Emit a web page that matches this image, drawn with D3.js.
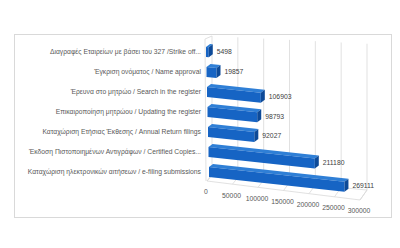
<!DOCTYPE html>
<html><head><meta charset="utf-8">
<script src="https://cdn.jsdelivr.net/npm/d3@7"></script>
<style>html,body{margin:0;padding:0;background:#fff;}svg{display:block;}</style>
</head><body>
<svg id="c" width="400" height="248"></svg>
<script>
const categories = [
  "Διαγραφές Εταιρείων  με βάσει του 327 /Strike off...",
  "Έγκριση ονόματος / Name approval",
  "Έρευνα στο μητρώο / Search in the register",
  "Επικαιροποίηση μητρώου / Updating the register",
  "Καταχώριση Ετήσιας Έκθεσης / Annual Return filings",
  "Έκδοση Πιστοποιημένων Αντιγράφων / Certified Copies...",
  "Καταχώριση ηλεκτρονικών αιτήσεων / e-filing submissions"
];
const values = [5498, 19857, 106903, 98793, 92027, 211180, 269111];
const ticks = [0, 50000, 100000, 150000, 200000, 250000, 300000];

const svg = d3.select("#c");
const font = "'Liberation Sans', Arial, sans-serif";
const grid = "#d9d9d9";

// chart area frame
svg.append("rect").attr("x",14.5).attr("y",34.5).attr("width",377).attr("height",183)
  .attr("fill","#fff").attr("stroke","#d9d9d9");

// scales
const wFront = d3.scaleLinear().domain([0,300000]).range([0,151]);   // bar length (front plane)
const xBack = d3.scaleLinear().domain([0,300000]).range([212,367]);  // back wall
const xFloorFront = d3.scaleLinear().domain([0,300000]).range([207,360]);
const rowY = d3.scalePoint().domain(categories).range([44,164]);
const rowX = d3.scaleLinear().domain([0,6]).range([206,209]);
const slope = 0.108, topSlope = 0.05, backFloorSlope = 0.097, frontFloorSlope = 0.124;
const backTop = x => 36 + (x-212)*topSlope;
const backFloor = x => 175 + (x-212)*backFloorSlope;
const frontFloor = x => 181 + (x-207)*frontFloorSlope;

// floor
const g = svg.append("g").attr("fill","none").attr("stroke",grid).attr("stroke-width",0.8);
g.append("path").attr("d", `M${xBack(0)},${backFloor(xBack(0))} L${xBack(300000)},${backFloor(xBack(300000))} L${xFloorFront(300000)},${frontFloor(xFloorFront(300000))} L${xFloorFront(0)},${frontFloor(xFloorFront(0))} Z`);
// back wall gridlines + floor gridlines
ticks.forEach(t => {
  const xb = xBack(t), xf = xFloorFront(t);
  g.append("line").attr("x1",xb).attr("y1",backTop(xb)).attr("x2",xb).attr("y2",backFloor(xb));
  g.append("line").attr("x1",xb).attr("y1",backFloor(xb)).attr("x2",xf).attr("y2",frontFloor(xf));
});
// left wall
g.append("path").attr("d", `M${xFloorFront(0)-1},${frontFloor(xFloorFront(0))} L205,39 L${xBack(0)},${backTop(xBack(0))}`);

// bars
const H = 10, dx = 4, dy = 3;
const bars = svg.append("g");
categories.forEach((c,i) => {
  const v = values[i];
  const x0 = rowX(i), y0 = rowY(c) + dy;
  const w = wFront(v), x1 = x0 + w, y1 = y0 + w*slope;
  // top face
  bars.append("path").attr("fill","#2f7fd6")
    .attr("d", `M${x0},${y0} L${x1},${y1} L${x1+dx},${y1-dy} L${x0+dx},${y0-dy} Z`);
  // front face
  bars.append("path").attr("fill","#1664c4")
    .attr("d", `M${x0},${y0} L${x1},${y1} L${x1},${y1+H} L${x0},${y0+H} Z`);
  // end cap
  bars.append("path").attr("fill","#0d4a98")
    .attr("d", `M${x1},${y1} L${x1+dx},${y1-dy} L${x1+dx},${y1-dy+H} L${x1},${y1+H} Z`);
  // value label
  svg.append("text").attr("x", x1+dx+4).attr("y", y1 + H/2 - 1).attr("dy","0.35em")
    .attr("font-family",font).attr("font-size",6.8).attr("fill","#404040").text(v);
  // category label
  svg.append("text").attr("x", 201).attr("y", rowY(c)+7.5).attr("dy","0.35em")
    .attr("text-anchor","end").attr("font-family",font).attr("font-size",6.75)
    .attr("fill","#595959").text(c);
});

// axis tick labels along the front floor edge
ticks.forEach(t => {
  const xf = xFloorFront(t);
  svg.append("text").attr("x", xf - 1).attr("y", frontFloor(xf) + 11).attr("dy","0.35em")
    .attr("text-anchor","middle").attr("font-family",font).attr("font-size",6.8)
    .attr("fill","#595959").text(t);
});
</script>
</body></html>
